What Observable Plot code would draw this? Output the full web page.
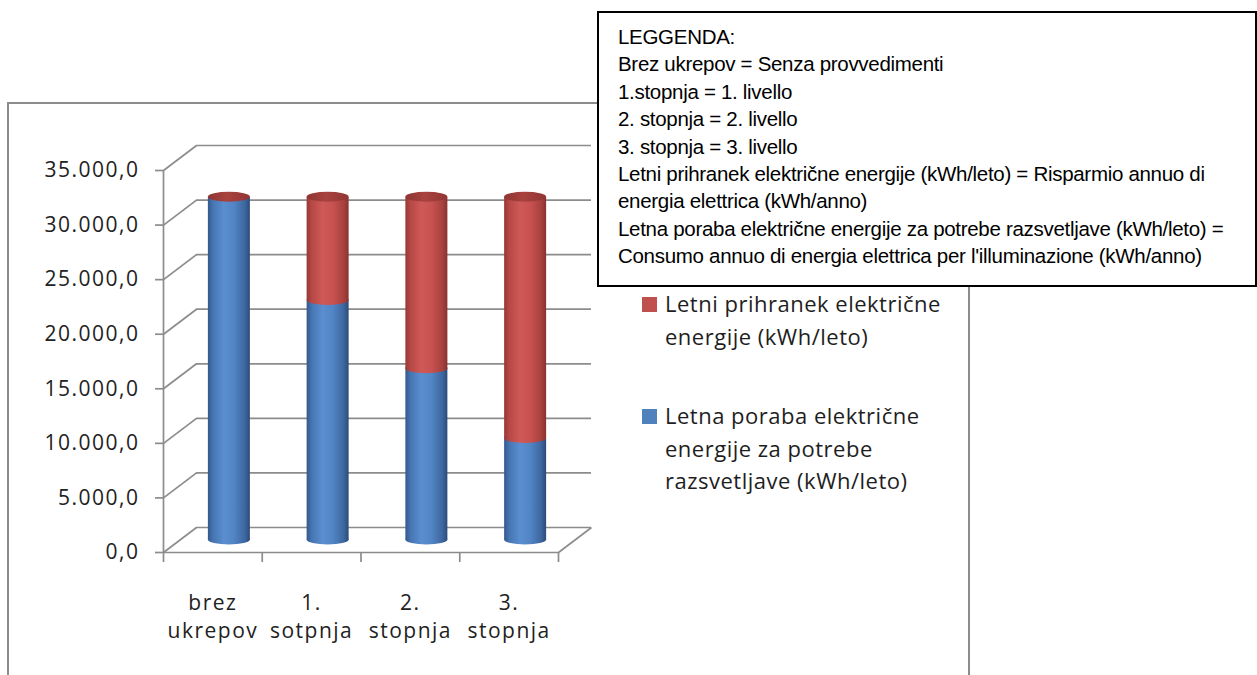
<!DOCTYPE html>
<html>
<head>
<meta charset="utf-8">
<script src="https://cdn.jsdelivr.net/npm/d3@7"></script>
<script src="https://cdn.jsdelivr.net/npm/@observablehq/plot@0.6"></script>
<style>
  html, body { margin: 0; padding: 0; background: #fff; }
  body { width: 1257px; height: 675px; overflow: hidden; position: relative; }
  #chart { position: absolute; left: 0; top: 0; }
  #chart svg { display: block; }
  .frame { position: absolute; left: 7px; top: 102px; width: 963px; height: 700px;
           border: 2px solid #8c8c8c; box-sizing: border-box; }
  .xlleg { position: absolute; left: 642px; font-family: "Open Sans", sans-serif; font-size: 22px;
           letter-spacing: 0.5px; color: #1e1e1e; }
  .xlleg .sw { position: absolute; left: 0; width: 15px; height: 15px; }
  .xlleg .tx { position: absolute; left: 23px; line-height: 32.5px; white-space: nowrap; }
  #box { position: absolute; left: 597px; top: 11px; width: 660px; height: 276px; box-sizing: border-box;
         border: 2px solid #000; background: #fff; padding: 10px 0 0 19px;
         font-family: "Liberation Sans", Arial, sans-serif; font-size: 20.5px; letter-spacing: -0.3px;
         line-height: 27.4px; color: #000; white-space: nowrap; }
</style>
</head>
<body>
<svg width="0" height="0" style="position:absolute">
  <defs>
    <linearGradient id="gBlue" x1="0" x2="1" y1="0" y2="0">
      <stop offset="0" stop-color="#33598c"/>
      <stop offset="0.12" stop-color="#4675b2"/>
      <stop offset="0.38" stop-color="#5a8ed0"/>
      <stop offset="0.62" stop-color="#5285c4"/>
      <stop offset="0.88" stop-color="#3d67a0"/>
      <stop offset="1" stop-color="#2c4b78"/>
    </linearGradient>
    <linearGradient id="gRed" x1="0" x2="1" y1="0" y2="0">
      <stop offset="0" stop-color="#963836"/>
      <stop offset="0.12" stop-color="#b64845"/>
      <stop offset="0.38" stop-color="#cf5956"/>
      <stop offset="0.62" stop-color="#c8524f"/>
      <stop offset="0.88" stop-color="#a8413e"/>
      <stop offset="1" stop-color="#883230"/>
    </linearGradient>
    <linearGradient id="gCap" x1="0" x2="1" y1="0" y2="0">
      <stop offset="0" stop-color="#8e3533"/>
      <stop offset="0.45" stop-color="#a8423f"/>
      <stop offset="1" stop-color="#913634"/>
    </linearGradient>
  </defs>
</svg>
<div id="chart"></div>
<div class="frame"></div>
<div id="xlLegend"></div>
<div id="box"></div>
<script>
// ---- data ----
const categories = ["brez\nukrepov", "1.\nsotpnja", "2.\nstopnja", "3.\nstopnja"];
const consumption = [31400, 21950, 15700, 9300];   // Letna poraba (blue)
const savings = [0, 9450, 15700, 22100];            // Letni prihranek (red)
const yTicks = [0, 5000, 10000, 15000, 20000, 25000, 30000, 35000];
const seriesNames = [
  "Letni prihranek električne\nenergije (kWh/leto)",
  "Letna poraba električne\nenergije za potrebe\nrazsvetljave (kWh/leto)"
];
const seriesColors = ["#c0504d", "#4f81bd"];
const glossary = [
  "LEGGENDA:",
  "Brez ukrepov = Senza provvedimenti",
  "1.stopnja = 1. livello",
  "2. stopnja = 2. livello",
  "3. stopnja = 3. livello",
  "Letni prihranek električne energije (kWh/leto) = Risparmio annuo di",
  "energia elettrica (kWh/anno)",
  "Letna poraba električne energije za potrebe razsvetljave (kWh/leto) =",
  "Consumo annuo di energia elettrica per l'illuminazione (kWh/anno)"
];

// ---- layout ----
const W = 1257, H = 675, ML = 163, MR = 699, MT = 170, MB = 123;
const N = categories.length;
const DX = 33, DY = -25;                 // 3D depth offset (px)
const pxPerX = (W - ML - MR) / N;
const pxPerY = (H - MT - MB) / 35000;
const DXU = DX / pxPerX, DYU = -DY / pxPerY;
const HALF = 21 / pxPerX;
const grid = "#8c8c8c";

const rows = categories.map((c, i) => ({i, c, blue: consumption[i], red: savings[i], total: consumption[i] + savings[i]}));
const fmt = d3.formatLocale({decimal: ",", thousands: ".", grouping: [3], currency: ["", "€"]}).format(",.1f");

const cyl = {x1: d => d.i + 0.5 - HALF, x2: d => d.i + 0.5 + HALF, dx: DX / 2, dy: DY / 2};
const ell = {insetTop: -5, insetBottom: -5, rx: 40, ry: 20};

const chart = Plot.plot({
  width: W, height: H,
  marginLeft: ML, marginRight: MR, marginTop: MT, marginBottom: MB,
  x: {type: "linear", domain: [0, N], axis: null},
  y: {type: "linear", domain: [0, 35000], axis: null},
  style: {fontFamily: "'Open Sans', sans-serif", fontSize: "21px", letterSpacing: "1.5px", color: "#222", background: "transparent", overflow: "visible"},
  marks: [
    // back wall gridlines
    Plot.ruleY(yTicks, {y: d => d, x1: 0, x2: N, dx: DX, dy: DY, stroke: grid, strokeWidth: 1.7}),
    // side wall diagonals
    Plot.link(yTicks, {x1: 0, y1: d => d, x2: DXU, y2: d => d + DYU, stroke: grid, strokeWidth: 1.7}),
    // floor right edge
    Plot.link([0], {x1: N, y1: 0, x2: N + DXU, y2: DYU, stroke: grid, strokeWidth: 1.7}),
    // floor front edge and value axis
    Plot.ruleY([0], {x1: 0, x2: N, stroke: grid, strokeWidth: 1.7}),
    Plot.ruleX([0], {y1: 0, y2: 35000, stroke: grid, strokeWidth: 1.7}),
    // ticks
    Plot.ruleY(yTicks, {y: d => d, x1: 0, x2: 0, insetLeft: -8, stroke: grid, strokeWidth: 1.7}),
    Plot.ruleX(d3.range(N + 1), {x: d => d, y1: 0, y2: 0, insetBottom: -10, stroke: grid, strokeWidth: 1.7}),
    // cylinders
    Plot.rect(rows, {...cyl, y1: 0, y2: 0, ...ell, fill: "url(#gBlue)"}),
    Plot.rect(rows, {...cyl, y1: 0, y2: "blue", fill: "url(#gBlue)"}),
    Plot.rect(rows, {...cyl, y1: "blue", y2: "total", fill: "url(#gRed)", filter: d => d.red > 0}),
    Plot.rect(rows, {...cyl, y1: "blue", y2: "blue", ...ell, fill: "url(#gRed)", filter: d => d.red > 0}),
    Plot.rect(rows, {...cyl, y1: "total", y2: "total", ...ell, fill: "url(#gCap)"}),
    // labels
    Plot.text(yTicks, {x: 0, y: d => d, text: d => fmt(d), textAnchor: "end", dx: -24, fill: "#222"}),
    Plot.text(rows, {x: d => d.i + 0.5, y: 0, text: "c", lineAnchor: "top", dy: 38, lineHeight: 1.33, fill: "#222"})
  ]
});
document.getElementById("chart").appendChild(chart);

// Excel-style series legend
const leg = document.getElementById("xlLegend");
const legTops = [287, 399];
seriesNames.forEach((name, k) => {
  const g = document.createElement("div");
  g.className = "xlleg";
  g.style.top = legTops[k] + "px";
  const sw = document.createElement("div");
  sw.className = "sw"; sw.style.background = seriesColors[k]; sw.style.top = "10px";
  const tx = document.createElement("div");
  tx.className = "tx"; tx.style.top = "0px";
  tx.innerHTML = name.split("\n").join("<br>");
  g.appendChild(sw); g.appendChild(tx);
  leg.appendChild(g);
});

// glossary box
const box = document.getElementById("box");
glossary.forEach(line => {
  const d = document.createElement("div");
  d.textContent = line;
  box.appendChild(d);
});
</script>
</body>
</html>
